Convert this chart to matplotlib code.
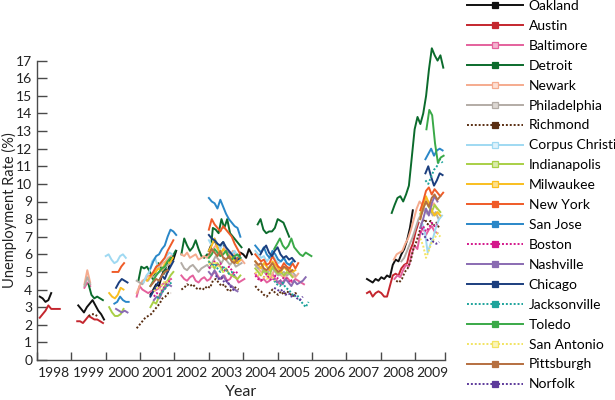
import numpy as np
import matplotlib
matplotlib.use("Agg")
import matplotlib.pyplot as plt
from matplotlib.lines import Line2D

plt.rcParams["font.family"] = ["Lato", "DejaVu Sans"]

# each city: list of (start year, monthly values)
oakland = [
    (1998.08, [3.6, 3.5, 3.3, 3.4, 3.8]),
    (1999.2, [3.1, 2.9, 2.7, 3.0, 3.2, 3.4, 3.1, 2.8, 2.6, 2.3]),
    (2001.3, [3.7, 4.0, 4.3, 4.2, 4.8, 5.2, 5.0, 5.6, 5.7, 6.2]),
    (2003.0, [6.2, 6.6, 6.8, 6.4, 6.5, 6.7, 6.2, 6.0, 5.9, 5.7, 5.5, 6.1, 6.0, 5.8, 6.3, 6.0]),
    (2007.6, [4.6, 4.5, 4.4, 4.6, 4.5, 4.7, 4.6, 4.8, 4.7, 5.4, 5.7, 5.6, 6.0, 6.3, 6.8, 7.5, 8.5]),
]
austin = [
    (1998.08, [2.4, 2.6, 2.8, 3.1, 2.9, 2.9, 2.9, 2.9]),
    (1999.17, [2.2, 2.2, 2.1, 2.3, 2.5, 2.4, 2.3, 2.3, 2.2, 2.1]),
    (2007.6, [3.8, 3.9, 3.6, 3.8, 3.9, 3.8, 3.6, 3.6, 4.2, 4.8, 4.9, 4.8, 5.2, 5.4, 5.5, 6.2, 6.6, 7.3, 7.8]),
]
baltimore = [
    (1999.38, [4.1, 4.4, 4.2]),
    (2000.9, [3.6, 4.2, 4.0, 3.9, 3.8, 3.9, 3.9, 4.0, 4.1, 4.3, 4.4, 4.5, 4.6]),
    (2002.2, [4.8, 4.6, 4.5, 4.7, 4.8, 4.5, 4.4, 4.6, 4.7, 4.5, 4.6, 4.9, 5.0, 4.7, 4.6,
              4.8, 4.5, 4.6, 4.9, 4.7, 4.4, 4.5, 4.6]),
    (2004.35, [4.9, 4.7, 4.5, 4.6, 4.4, 4.5, 4.9, 4.6, 4.4, 4.3, 4.5, 4.7, 4.5, 4.4, 4.6, 4.5, 4.4, 4.3]),
    (2008.4, [4.6, 4.8, 4.7, 5.1, 5.4, 5.3, 6.0, 6.5, 6.3, 7.2, 7.5, 7.1, 7.4, 7.6, 7.3, 7.2]),
]
detroit = [
    (1999.5, [4.3, 3.7, 3.5, 3.6, 3.5, 3.4]),
    (2000.95, [4.5, 5.3, 5.2, 5.3, 5.0, 4.6, 5.0, 5.5, 5.2, 4.9, 5.5, 5.7, 5.9, 6.2]),
    (2002.2, [6.0, 6.9, 6.5, 6.2, 6.4, 6.8, 6.3, 5.9, 5.8, 6.0, 5.9, 7.5, 7.4, 7.2, 8.0,
              7.5, 8.0, 7.2, 7.0, 6.8, 6.6, 6.4]),
    (2004.42, [7.7, 8.0, 7.4, 7.2, 7.3, 7.3, 7.5, 8.0, 7.9, 7.8, 7.4, 7.0]),
    (2008.32, [8.35, 8.8, 9.2, 9.3, 9.0, 9.4, 9.9, 11.5, 13.1, 13.8, 13.4, 14.0, 15.0,
               16.5, 17.7, 17.3, 17.0, 17.3, 16.6]),
]
newark = [
    (1999.38, [4.3, 5.1, 4.4]),
    (2000.9, [3.8, 4.2, 4.5, 4.6, 4.8, 4.7, 5.0, 5.2, 5.3, 5.5, 5.6, 5.8, 5.9]),
    (2002.2, [6.0, 5.9, 6.1, 5.8, 5.9, 6.0, 5.7, 5.8, 5.9, 5.8, 6.0, 6.3, 6.5, 6.2, 6.0,
              6.4, 6.1, 5.9, 6.2, 5.8, 5.6, 5.7, 5.5]),
    (2004.35, [5.4, 5.2, 5.0, 5.1, 4.8, 4.6, 4.9, 5.2, 5.0, 4.8, 4.7, 4.9, 5.0, 4.8, 4.7, 4.9]),
    (2008.38, [5.7, 6.0, 6.1, 6.2, 6.6, 6.9, 7.4, 8.0, 8.6, 9.0, 8.8, 9.2, 9.0, 8.7, 8.9, 8.6]),
]
philadelphia = [
    (1999.38, [4.2, 4.7, 4.3]),
    (2000.9, [4.5, 4.4, 4.3, 4.6, 4.5, 4.8, 4.7, 4.9, 5.0, 5.1, 5.3, 5.4, 5.5]),
    (2002.2, [5.5, 5.2, 5.1, 5.3, 5.4, 5.2, 5.0, 5.2, 5.3, 5.4, 5.2, 5.6, 5.9, 5.7, 5.5,
              5.8, 5.6, 5.4, 5.6, 5.3, 5.4, 5.5]),
    (2004.35, [5.4, 5.2, 5.3, 5.0, 4.9, 5.1, 5.2, 5.0, 4.8, 4.9, 5.0, 4.8, 4.9, 5.0, 4.8]),
    (2008.6, [5.6, 5.8, 6.2, 6.6, 7.0, 7.5, 8.0, 8.3, 8.6, 8.3, 8.5, 8.2, 8.4, 8.0]),
]
richmond = [
    (1999.5, [2.5, 2.6, 2.6, 2.5]),
    (2000.9, [1.8, 2.0, 2.2, 2.4, 2.5, 2.6, 2.8, 3.0, 3.2, 3.5, 3.6, 3.8, 3.8]),
    (2002.2, [4.0, 4.1, 4.3, 4.2, 4.3, 4.1, 4.0, 4.1, 4.0, 4.2, 4.1, 4.5, 4.6, 4.4, 4.2,
              4.3, 4.0, 3.9, 4.2, 4.1, 4.0]),
    (2004.35, [4.2, 4.0, 3.9, 3.7, 3.6, 3.8, 4.0, 3.8, 3.7, 3.9, 3.7, 3.9, 3.8, 3.6, 3.8, 3.7]),
    (2008.45, [4.5, 4.4, 4.6, 5.0, 5.2, 5.6, 6.3, 6.7, 7.2, 7.8, 8.0, 7.7, 7.9, 7.6, 7.8, 7.5]),
]
corpus_christi = [
    (2000.0, [5.9, 6.0, 5.7, 5.5, 5.6, 5.9, 6.0, 5.8]),
    (2001.1, [4.4, 4.8, 5.0, 5.6, 5.8, 5.3, 5.5, 5.7, 5.9, 6.1, 6.0]),
    (2003.0, [6.8, 6.5, 6.9, 6.6, 6.3, 6.7, 6.4, 6.2, 6.0, 6.2, 5.9, 5.8]),
    (2004.35, [6.2, 6.0, 5.8, 5.9, 5.6, 5.8, 6.0, 5.7, 5.5, 5.6, 5.8, 5.5, 5.4, 5.6]),
    (2009.2, [7.8, 7.3, 6.1, 6.6, 7.0, 7.6, 8.0, 8.2]),
]
indianapolis = [
    (2000.1, [3.0, 2.7, 2.5, 2.5, 2.6, 2.9]),
    (2001.3, [3.0, 3.3, 3.2, 3.6, 3.9, 4.2, 4.5, 4.8, 5.0]),
    (2003.0, [5.6, 5.4, 5.2, 5.5, 5.3, 5.0, 5.2, 4.9, 4.8, 4.7, 4.6, 4.8]),
    (2004.35, [5.2, 5.0, 4.8, 5.1, 5.0, 4.8, 5.3, 5.1, 4.9, 5.0, 4.8, 5.0, 4.9, 4.7]),
    (2009.15, [8.3, 8.6, 9.0, 8.7, 8.4, 8.8, 8.6, 8.4]),
]
milwaukee = [
    (2000.1, [3.8, 3.6, 3.5, 3.7, 4.1, 4.0]),
    (2001.2, [4.5, 4.7, 4.9, 5.0, 5.2, 5.1, 5.4, 5.6, 5.5, 5.8]),
    (2003.0, [6.2, 6.5, 6.9, 6.4, 6.0, 6.3, 6.1, 5.8, 5.9, 5.6, 5.5, 5.7]),
    (2004.35, [5.6, 5.4, 5.2, 5.5, 5.3, 5.1, 5.6, 5.4, 5.2, 5.0, 5.3, 5.1, 5.2, 5.0, 5.1]),
    (2009.15, [8.0, 8.8, 9.3, 8.9, 8.5, 8.2, 8.4, 8.2]),
]
new_york = [
    (2000.2, [5.0, 5.0, 5.0, 5.3, 5.5]),
    (2001.3, [4.8, 5.0, 5.3, 5.4, 5.6, 5.8, 6.2, 6.5, 6.8]),
    (2003.0, [7.4, 8.0, 7.7, 7.5, 7.3, 7.6, 7.4, 7.2, 7.0, 6.6, 6.3, 6.0]),
    (2004.35, [6.0, 5.8, 5.6, 5.7, 5.4, 5.5, 5.9, 5.6, 5.3, 5.2, 5.5, 5.3, 5.2, 5.5, 5.2, 5.5]),
    (2009.15, [8.5, 9.0, 9.6, 9.8, 9.4, 9.7, 9.5, 9.3, 9.5]),
]
san_jose = [
    (2000.25, [3.2, 3.3, 3.6, 3.4, 3.3, 3.3]),
    (2001.3, [5.2, 5.6, 5.9, 6.0, 6.3, 6.5, 7.0, 7.4, 7.3, 7.1]),
    (2003.0, [9.2, 9.0, 8.9, 8.6, 9.1, 8.7, 8.3, 8.0, 7.8, 7.6, 7.5, 7.0]),
    (2004.35, [6.5, 6.3, 6.1, 6.4, 6.0, 5.8, 6.2, 6.0, 5.7, 5.6, 5.8, 5.5, 5.4, 5.6]),
    (2009.3, [11.4, 11.7, 12.0, 11.6, 11.9, 12.0, 11.9]),
]
boston = [
    (2001.4, [3.6, 3.8, 3.7, 4.0, 4.2, 4.4, 4.6]),
    (2003.0, [5.2, 5.4, 5.6, 5.3, 5.5, 5.2, 5.0, 5.3, 5.1, 4.9, 5.0]),
    (2004.35, [4.8, 4.6, 4.5, 4.7, 4.9, 4.6, 4.5, 4.8, 4.6, 4.5, 4.7, 4.6, 4.4, 4.6]),
    (2009.15, [7.2, 7.6, 7.3, 7.5, 7.8, 7.6, 7.7]),
]
nashville = [
    (2000.3, [2.9, 2.8, 2.7, 2.8, 2.7]),
    (2001.4, [3.4, 3.6, 3.5, 3.9, 4.1, 4.3, 4.2]),
    (2003.0, [5.0, 4.8, 5.1, 4.7, 4.6, 4.8, 4.5, 4.3, 4.2, 4.0, 3.9]),
    (2004.9, [4.6, 4.4, 4.5, 4.3, 4.6, 4.4, 4.2, 4.5, 4.3, 4.4, 4.5, 4.7]),
    (2009.15, [7.5, 8.0, 8.6, 8.2, 8.9, 9.3, 9.0]),
]
chicago = [
    (2000.3, [4.1, 4.4, 4.6, 4.5, 4.4]),
    (2001.3, [3.6, 3.9, 4.2, 4.5, 4.8, 4.6, 5.0, 5.3, 5.6]),
    (2003.0, [7.1, 6.9, 6.8, 6.6, 6.5, 6.7, 6.4, 6.2, 6.0, 5.8, 5.7, 5.8]),
    (2004.5, [6.0, 6.3, 6.5, 6.1, 5.9, 6.2, 6.4, 6.0, 5.8, 5.9, 5.7, 5.8, 5.6]),
    (2009.3, [10.6, 11.0, 10.4, 9.9, 10.2, 10.6, 10.5]),
]
jacksonville = [
    (2001.5, [3.5, 3.7, 3.9, 4.1, 4.3, 4.4]),
    (2003.0, [5.6, 5.3, 5.5, 5.2, 5.0, 5.3, 5.1, 4.9, 5.0, 4.8]),
    (2004.9, [4.5, 4.3, 4.2, 4.4, 4.1, 4.0, 3.8, 3.6, 3.7, 3.4, 3.2, 3.0, 3.3]),
    (2009.3, [10.2, 10.0, 10.4, 10.8, 11.0, 11.4, 11.2]),
]
toledo = [
    (2001.3, [4.2, 4.5, 4.8, 5.0, 5.2, 5.3, 5.6, 5.8]),
    (2003.0, [5.8, 6.0, 6.3, 6.1, 5.9, 6.0, 6.2, 5.8, 5.7, 5.9, 6.0, 5.8]),
    (2004.9, [6.3, 6.6, 6.9, 6.5, 6.3, 6.5, 6.9, 6.4, 6.2, 6.0, 5.9, 6.1, 6.0, 5.9]),
    (2009.33, [13.1, 14.2, 13.9, 12.3, 11.2, 11.5, 11.6]),
]
san_antonio = [
    (2001.4, [3.9, 4.1, 4.0, 4.3, 4.5, 4.4]),
    (2003.0, [5.5, 5.3, 5.6, 5.4, 5.2, 5.0, 5.1]),
    (2004.35, [5.0, 4.8, 4.9, 4.7, 4.6, 4.8, 4.7, 4.5]),
    (2009.15, [6.9, 6.5, 5.8, 6.2, 6.7, 6.9, 7.2, 7.0]),
]
pittsburgh = [
    (2001.3, [4.2, 4.4, 4.6, 4.5, 4.8, 5.0, 5.1]),
    (2003.0, [6.0, 6.3, 6.1, 5.9, 6.2, 5.8, 5.7, 5.9, 5.6, 5.5, 5.8]),
    (2004.35, [5.6, 5.4, 5.5, 5.2, 5.1, 5.3, 5.5, 5.2, 5.0, 5.1, 5.3, 5.2, 5.0, 5.1]),
    (2009.15, [8.0, 8.6, 9.0, 8.7, 9.2, 9.4, 9.1, 9.3]),
]
norfolk = [
    (2003.2, [4.8, 4.6, 4.7, 4.4, 4.5, 4.2, 4.0, 3.9]),
    (2004.9, [4.1, 4.0, 3.9, 4.0, 3.7, 3.8, 3.6, 3.7, 3.5, 3.4, 3.6]),
    (2009.2, [7.2, 7.0, 6.8, 6.9, 6.7, 6.6, 6.7]),
]

city_names = ["Oakland", "Austin", "Baltimore", "Detroit", "Newark", "Philadelphia",
              "Richmond", "Corpus Christi", "Indianapolis", "Milwaukee", "New York",
              "San Jose", "Boston", "Nashville", "Chicago", "Jacksonville", "Toledo",
              "San Antonio", "Pittsburgh", "Norfolk"]
city_data = [oakland, austin, baltimore, detroit, newark, philadelphia, richmond,
             corpus_christi, indianapolis, milwaukee, new_york, san_jose, boston,
             nashville, chicago, jacksonville, toledo, san_antonio, pittsburgh, norfolk]

# style per city: line colour, dotted?, marker face
styles = {
    "Oakland": ("#111111", False, "#111111"),
    "Austin": ("#c4262e", False, "#c4262e"),
    "Baltimore": ("#e4619d", False, "#f3b3cf"),
    "Detroit": ("#0b6b2c", False, "#0b6b2c"),
    "Newark": ("#f5ab8e", False, "#fde0d4"),
    "Philadelphia": ("#b3aca6", False, "#ddd8d3"),
    "Richmond": ("#5a2e12", True, "#5a2e12"),
    "Corpus Christi": ("#9fd9f2", False, "#dff2fb"),
    "Indianapolis": ("#a9cf46", False, "#d9ebaa"),
    "Milwaukee": ("#f9bf1f", False, "#fde08c"),
    "New York": ("#ef5b28", False, "#ef5b28"),
    "San Jose": ("#2a87c8", False, "#2a87c8"),
    "Boston": ("#d4188b", True, "#d4188b"),
    "Nashville": ("#8a6bb2", False, "#8a6bb2"),
    "Chicago": ("#1b3e7e", False, "#1b3e7e"),
    "Jacksonville": ("#1ea49c", True, "#1ea49c"),
    "Toledo": ("#3aa948", False, "#3aa948"),
    "San Antonio": ("#f2e462", True, "#fbf5b8"),
    "Pittsburgh": ("#b66f40", False, "#b66f40"),
    "Norfolk": ("#5d3a9b", True, "#5d3a9b"),
}

fig = plt.figure(figsize=(6.15, 4.0), dpi=100)
# y runs to 18 so Detroit's peak shows above the 17 tick; spine stops at 17
ax = fig.add_axes([37 / 615, 40 / 400, 408 / 615, 317 / 400])

handles = []
for name, segs in zip(city_names, city_data):
    color, dotted, face = styles[name]
    ls = (0, (1, 1)) if dotted else "-"
    for start, vals in segs:
        x = start + np.arange(len(vals)) / 12.0
        ax.plot(x, vals, color=color, ls=ls, lw=1.4)
    handles.append(Line2D([], [], color=color, ls=ls, lw=1.4, marker="s", markersize=4.2,
                          markerfacecolor=face, markeredgecolor=color, markeredgewidth=0.9,
                          label=name))

spine_c = "#4a4a4a"
text_c = "#222222"
ax.set_xlim(1998, 2009.87)
ax.set_ylim(0, 18)
ax.set_yticks(range(0, 18))
ax.spines["left"].set_bounds(0, 17)
ax.set_xticks(list(range(1998, 2010)) + [2009.87])
ax.set_xticklabels([])
ax.set_xticks(np.arange(1998.5, 2010, 1.0), minor=True)
ax.set_xticklabels([str(y) for y in range(1998, 2010)], minor=True)
ax.tick_params(axis="y", direction="in", length=7.5, width=1.0, color=spine_c,
               labelsize=10, pad=3.5, labelcolor=text_c)
ax.tick_params(axis="x", which="major", direction="in", length=6, width=1.0, color=spine_c)
ax.tick_params(axis="x", which="minor", length=0, labelsize=10, pad=5, labelcolor=text_c)
for s in ("top", "right"):
    ax.spines[s].set_visible(False)
for s in ("left", "bottom"):
    ax.spines[s].set_color(spine_c)
    ax.spines[s].set_linewidth(1.0)
ax.set_xlabel("Year", fontsize=11.5, color=text_c)
ax.xaxis.set_label_coords(0.5, -0.08)
ax.set_ylabel("Unemployment Rate (%)", fontsize=10.5, color=text_c)
ax.yaxis.set_label_coords(-0.048, 8.5 / 18)

fig.legend(handles=handles, loc="upper left", bbox_to_anchor=(467 / 615, 1.0),
           frameon=False, fontsize=10, handlelength=4.0, handletextpad=0.45,
           labelspacing=0.57, borderpad=0.0, borderaxespad=0.0)

fig.savefig("out.png", dpi=100)
